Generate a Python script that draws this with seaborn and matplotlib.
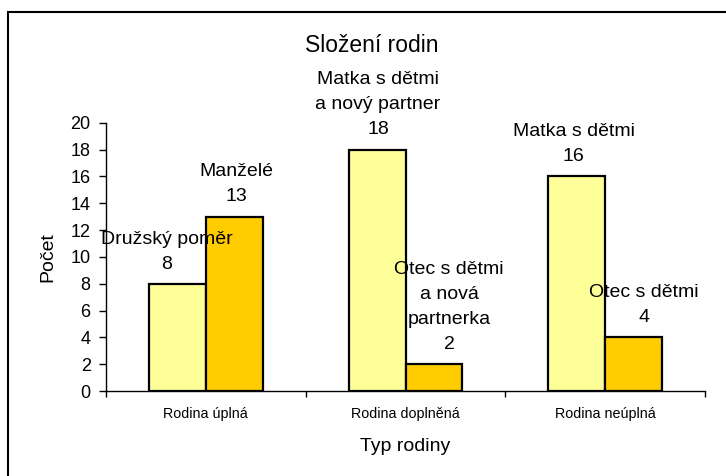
import matplotlib
matplotlib.use("Agg")
import matplotlib.pyplot as plt
import matplotlib.patches as mpatches
import seaborn as sns
import pandas as pd

# ---- data ----
categories = ["Rodina úplná", "Rodina doplněná", "Rodina neúplná"]
series_ids = ["první", "druhá"]
values_first = [8, 18, 16]
values_second = [13, 2, 4]
labels_first = ["Družský poměr", "Matka s dětmi\na nový partner", "Matka s dětmi"]
labels_second = ["Manželé", "Otec s dětmi\na nová\npartnerka", "Otec s dětmi"]
y_ticks = list(range(0, 21, 2))
title = "Složení rodin"
x_title = "Typ rodiny"
y_title = "Počet"

colors = ["#FFFF99", "#FFCC00"]

rows = []
for c, v1, v2 in zip(categories, values_first, values_second):
    rows.append({"cat": c, "ser": series_ids[0], "val": v1})
    rows.append({"cat": c, "ser": series_ids[1], "val": v2})
df = pd.DataFrame(rows)

sns.set_theme(style="white")
plt.rcParams["font.family"] = ["Liberation Sans", "DejaVu Sans"]
plt.rcParams.update({"text.color": "black", "axes.labelcolor": "black",
                     "xtick.color": "black", "ytick.color": "black"})

fig = plt.figure(figsize=(7.26, 4.76), dpi=100)
ax = fig.add_axes([106 / 726, 1 - 391 / 476, (705 - 106) / 726, (391 - 122.7) / 476])

sns.barplot(data=df, x="cat", y="val", hue="ser", order=categories,
            hue_order=series_ids, palette=colors, width=0.57, gap=0,
            edgecolor="black", linewidth=1.6, saturation=1, legend=False, ax=ax)

ax.set_xlim(-0.5, 2.5)
ax.set_ylim(0, 20)
ax.set_yticks(y_ticks)
ax.set_yticklabels([str(t) for t in y_ticks], fontsize=13)

# category boundaries as major ticks, labels on minor ticks
ax.set_xticks([-0.5, 0.5, 1.5, 2.5])
ax.set_xticklabels([])
ax.set_xticks([0, 1, 2], minor=True)
ax.set_xticklabels(categories, minor=True, fontsize=10.3)
ax.tick_params(axis="x", which="minor", length=0, pad=11.5)
ax.tick_params(axis="x", which="major", length=4, width=1, direction="out", color="black", bottom=True)
ax.tick_params(axis="y", length=5, width=1, direction="out", color="black", left=True, pad=6)

for s in ["top", "right"]:
    ax.spines[s].set_visible(False)
for s in ["left", "bottom"]:
    ax.spines[s].set_color("black")
    ax.spines[s].set_linewidth(1)

ax.set_xlabel(x_title, fontsize=14, labelpad=12)
ax.set_ylabel(y_title, fontsize=14, labelpad=10)

# data labels (series name + value) above each bar
label_dx = [[-11, 2], [1, 15], [-3, 10]]  # pixel nudges, style only
bars = ax.patches
first_bars = bars[:3]
second_bars = bars[3:6]
for i in range(3):
    for bar, lab, dx in ((first_bars[i], labels_first[i], label_dx[i][0]),
                         (second_bars[i], labels_second[i], label_dx[i][1])):
        x = bar.get_x() + bar.get_width() / 2
        h = bar.get_height()
        ax.annotate(f"{lab}\n{int(h)}", (x, h), xytext=(dx * 0.72, 8),
                    textcoords="offset points", ha="center", va="bottom",
                    fontsize=14, linespacing=1.62, color="black",
                    annotation_clip=False)

fig.text(372 / 726, 1 - 45 / 476, title, ha="center", va="center",
         fontsize=16.5, color="black")

# chart-area border
rect = mpatches.Rectangle((8 / 726, -0.1), 1.2, 1 - 12 / 476 + 0.1,
                          transform=fig.transFigure, fill=False,
                          edgecolor="black", linewidth=1.5)
fig.patches.append(rect)

fig.savefig("out.png", dpi=100, facecolor="white")
